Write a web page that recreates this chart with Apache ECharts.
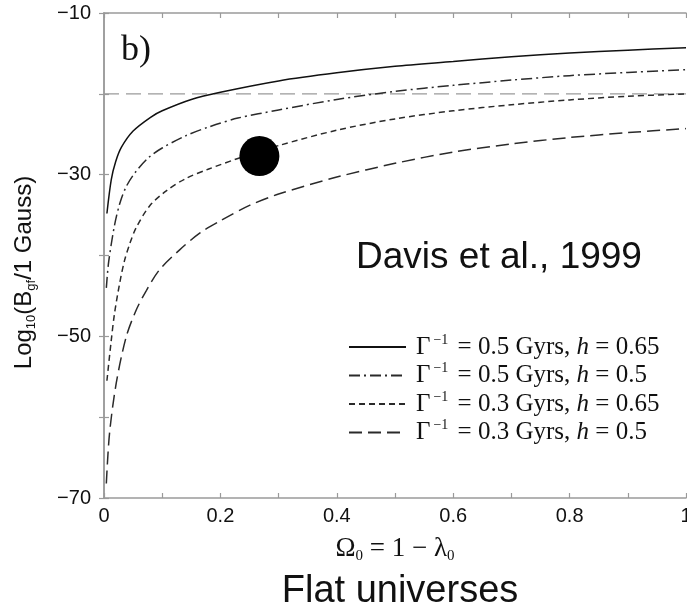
<!DOCTYPE html>
<html>
<head>
<meta charset="utf-8">
<title>Flat universes</title>
<script src="https://cdn.jsdelivr.net/npm/echarts@6/dist/echarts.min.js"></script>
<style>
html, body { margin: 0; padding: 0; background: #fff; }
#chart { width: 687px; height: 612px; }
</style>
</head>
<body>
<div id="chart"></div>
<script>
// curves: [Omega0, log10(B/1 Gauss)]
const solid065 = [[0.005, -34.8], [0.0125, -30.6], [0.02, -28.4], [0.03, -26.6], [0.05, -24.6], [0.08, -22.9], [0.1, -22.1], [0.15, -20.7], [0.2, -19.8], [0.3, -18.4], [0.4, -17.4], [0.5, -16.6], [0.6, -16.0], [0.7, -15.4], [0.8, -14.95], [0.9, -14.6], [1.0, -14.3]]
const dashdot05 = [[0.004, -44.0], [0.008, -40.8], [0.018, -36.3], [0.027, -33.6], [0.038, -31.5], [0.055, -29.6], [0.078, -27.8], [0.1, -26.7], [0.14, -25.2], [0.18, -24.1], [0.23, -23.0], [0.3, -22.0], [0.4, -20.7], [0.5, -19.7], [0.6, -18.95], [0.7, -18.3], [0.8, -17.75], [0.9, -17.35], [1.0, -17.0]]
const short065 = [[0.005, -55.5], [0.012, -50.8], [0.018, -47.2], [0.027, -43.4], [0.035, -40.7], [0.044, -38.6], [0.055, -36.6], [0.078, -33.9], [0.107, -32.0], [0.14, -30.5], [0.18, -29.3], [0.23, -28.0], [0.3, -26.4], [0.4, -24.5], [0.5, -23.1], [0.6, -22.1], [0.7, -21.35], [0.8, -20.75], [0.9, -20.3], [1.0, -20.0]]
const long05 = [[0.004, -68.2], [0.0095, -62.0], [0.021, -55.8], [0.038, -50.1], [0.055, -46.8], [0.073, -44.3], [0.095, -41.8], [0.13, -39.3], [0.165, -37.2], [0.2, -35.7], [0.25, -33.8], [0.3, -32.4], [0.4, -30.3], [0.5, -28.6], [0.6, -27.2], [0.7, -26.2], [0.8, -25.4], [0.9, -24.8], [1.0, -24.3]]
const refLine = [[0, -20], [1, -20]]
const dotPoint = [[0.267, -27.7]]

const seriesNames = ['G-1 = 0.5 Gyrs, h = 0.65', 'G-1 = 0.5 Gyrs, h = 0.5', 'G-1 = 0.3 Gyrs, h = 0.65', 'G-1 = 0.3 Gyrs, h = 0.5']
const legendGyrs = ['0.5', '0.5', '0.3', '0.3']
const legendH = ['0.65', '0.5', '0.65', '0.5']

const xTicks = [0, 0.2, 0.4, 0.6, 0.8, 1]
const xTickLabels = ['0', '0.2', '0.4', '0.6', '0.8', '1']
const yTicks = [-10, -30, -50, -70]
const yTickLabels = ['\u221210', '\u221230', '\u221250', '\u221270']

const serif = '"Liberation Serif", "DejaVu Serif", serif'
const sans = '"Liberation Sans", Arial, sans-serif'

function pickLabel (ticks, labels, v) {
  const i = ticks.findIndex(t => Math.abs(t - v) < 1e-6)
  return i >= 0 ? labels[i] : ''
}

const myChart = echarts.init(document.getElementById('chart'))

const frameLine = { lineStyle: { color: '#9a9a9a', width: 1.5 } }
const tickIn = { inside: true, length: 5, lineStyle: { color: '#9a9a9a', width: 1.2 } }

function curve (name, data, type, color) {
  return {
    name: name,
    type: 'line',
    data: data,
    symbol: 'none',
    smooth: 0.3,
    lineStyle: { color: color, width: 1.5, type: type },
    itemStyle: { color: color },
    z: 3
  }
}

const option = {
  backgroundColor: '#fff',
  animation: false,
  grid: { left: 104, right: 1, top: 13, bottom: 114, outerBoundsMode: 'none' },
  legend: {
    data: seriesNames,
    orient: 'vertical',
    left: 343,
    top: 328,
    itemWidth: 57,
    itemHeight: 14,
    itemGap: 2,
    itemStyle: { opacity: 0 },
    formatter: function (name) {
      const i = seriesNames.indexOf(name)
      return '{g|\u0393}{sup|\u22121}{n| = ' + legendGyrs[i] + ' Gyrs, }{i|h}{n| = ' + legendH[i] + '}'
    },
    textStyle: {
      color: '#111',
      rich: {
        g: { fontFamily: serif, fontSize: 25, lineHeight: 28, color: '#111', padding: [0, 0, 0, 5] },
        sup: { fontFamily: serif, fontSize: 14, lineHeight: 12, verticalAlign: 'top', color: '#111', padding: [0, 3, 0, 3] },
        n: { fontFamily: serif, fontSize: 25, lineHeight: 28, color: '#111' },
        i: { fontFamily: serif, fontSize: 25, lineHeight: 28, fontStyle: 'italic', color: '#111' }
      }
    }
  },
  xAxis: [
    {
      type: 'value',
      min: 0,
      max: 1,
      interval: 0.1,
      position: 'bottom',
      axisLine: frameLine,
      axisTick: tickIn,
      splitLine: { show: false },
      axisLabel: {
        formatter: v => pickLabel(xTicks, xTickLabels, v),
        fontFamily: sans, fontSize: 20, color: '#111', margin: 8
      },
      name: '{o|\u03a9}{s|0}{o| = 1 \u2212 \u03bb}{s|0}',
      nameLocation: 'middle',
      nameGap: 36,
      nameTextStyle: {
        rich: {
          o: { fontFamily: serif, fontSize: 27, lineHeight: 30, color: '#111' },
          s: { fontFamily: serif, fontSize: 15, lineHeight: 14, verticalAlign: 'bottom', color: '#111' }
        }
      }
    },
    {
      type: 'value',
      min: 0,
      max: 1,
      interval: 0.1,
      position: 'top',
      axisLine: frameLine,
      axisTick: tickIn,
      splitLine: { show: false },
      axisLabel: { show: false }
    }
  ],
  yAxis: [
    {
      type: 'value',
      min: -70,
      max: -10,
      interval: 10,
      position: 'left',
      axisLine: frameLine,
      axisTick: tickIn,
      splitLine: { show: false },
      axisLabel: {
        formatter: v => pickLabel(yTicks, yTickLabels, v),
        fontFamily: sans, fontSize: 20, color: '#111', margin: 13
      },
      name: '{n|Log}{s|10}{n|(B}{s|gf}{n|/1 Gauss)}',
      nameLocation: 'middle',
      nameGap: 66,
      nameTextStyle: {
        padding: [0, 34, 0, 0],
        rich: {
          n: { fontFamily: sans, fontSize: 24, lineHeight: 28, color: '#111' },
          s: { fontFamily: sans, fontSize: 13, lineHeight: 13, verticalAlign: 'bottom', color: '#111' }
        }
      }
    },
    {
      type: 'value',
      min: -70,
      max: -10,
      interval: 10,
      position: 'right',
      axisLine: frameLine,
      axisTick: tickIn,
      splitLine: { show: false },
      axisLabel: { show: false }
    }
  ],
  series: [
    {
      name: 'ref',
      type: 'line',
      data: refLine,
      symbol: 'none',
      lineStyle: { color: '#9a9a9a', width: 1.2, type: [15, 7] },
      z: 2
    },
    curve(seriesNames[0], solid065, 'solid', '#111'),
    curve(seriesNames[1], dashdot05, [11, 4, 2, 4], '#2a2a2a'),
    curve(seriesNames[2], short065, [6, 4], '#2a2a2a'),
    curve(seriesNames[3], long05, [13, 6], '#2a2a2a'),
    {
      name: 'dot',
      type: 'scatter',
      data: dotPoint,
      symbol: 'circle',
      symbolSize: 40,
      itemStyle: { color: '#000', opacity: 1 },
      z: 4
    }
  ],
  graphic: [
    {
      type: 'text',
      left: 121,
      top: 33,
      style: { text: 'b)', font: '36px ' + serif, fill: '#111' }
    },
    {
      type: 'text',
      x: 499,
      y: 258,
      style: { text: 'Davis et al., 1999', font: '37px ' + sans, fill: '#111', align: 'center', verticalAlign: 'middle' }
    },
    {
      type: 'text',
      x: 400,
      y: 592,
      style: { text: 'Flat universes', font: '38px ' + sans, fill: '#111', align: 'center', verticalAlign: 'middle' }
    }
  ]
}

myChart.setOption(option)
</script>
</body>
</html>
